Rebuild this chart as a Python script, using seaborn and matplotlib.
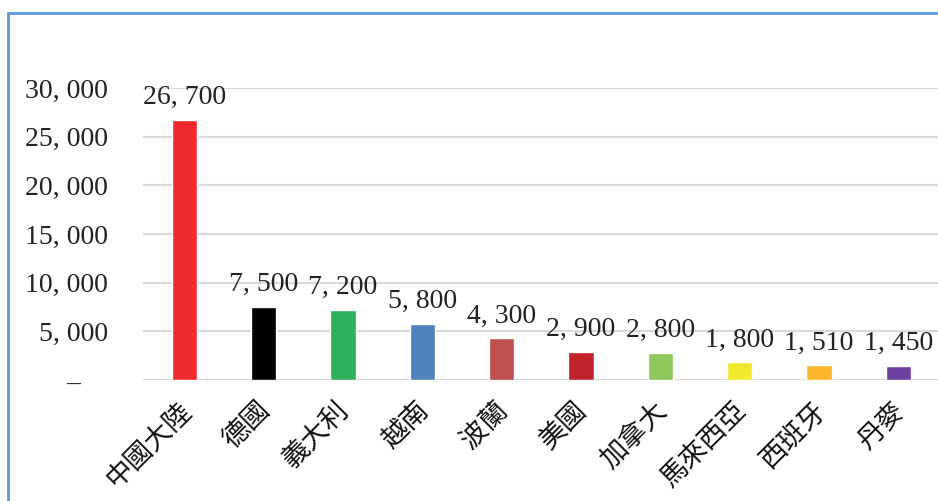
import matplotlib
matplotlib.use("Agg")
import matplotlib.pyplot as plt
import matplotlib.transforms as mtransforms
from matplotlib.lines import Line2D
import seaborn as sns
import pandas as pd

categories = ["中國大陸", "德國", "義大利", "越南", "波蘭", "美國", "加拿大", "馬來西亞", "西班牙", "丹麥"]
values = [26700, 7500, 7200, 5800, 4300, 2900, 2800, 1800, 1510, 1450]
colors = ["#EE2A2F", "#000000", "#2DB15B", "#4F81BD", "#C0504D",
          "#C0232B", "#8DC85C", "#F2E830", "#FDB62E", "#6C3FA0"]
yticks = [0, 5000, 10000, 15000, 20000, 25000, 30000]

def fmt(v):
    return f"{int(round(v)):,}".replace(",", ", ")

sns.set_theme(style="white")
plt.rcParams["font.family"] = ["Liberation Serif", "Noto Sans CJK TC"]

fig = plt.figure(figsize=(9.38, 5.01), dpi=100)
ax = fig.add_axes([143 / 938, 1 - 380 / 501, 795 / 938, 292 / 501])

df = pd.DataFrame({"cat": categories, "val": values})
sns.barplot(data=df, x="cat", y="val", hue="cat", palette=colors,
            width=0.32, legend=False, ax=ax, saturation=1)

ax.set_ylim(0, 30000)
ax.set_xlim(-0.52, 9.5)
ax.set_yticks(yticks)
ax.set_yticklabels(["–    "] + [fmt(v) for v in yticks[1:]], fontsize=20,
                   family=["Liberation Serif"], color="#222222")
ax.tick_params(axis="y", length=0, pad=25)
ax.tick_params(axis="x", length=0, pad=0)
ax.yaxis.grid(True, color="#d9d9d9", linewidth=1.5)
ax.set_axisbelow(True)
for s in ax.spines.values():
    s.set_visible(False)
ax.set_xlabel("")
ax.set_ylabel("")

ax.set_xticks(range(len(categories)))
ax.set_xticklabels(categories, rotation=45, ha="right", va="center",
                   rotation_mode="anchor", fontsize=19.5,
                   family=["Noto Sans CJK TC"], color="#111111")
offset = mtransforms.ScaledTranslation(2 / 72, -19 / 72, fig.dpi_scale_trans)
for lbl in ax.get_xticklabels():
    lbl.set_transform(lbl.get_transform() + offset)

for cont in ax.containers:
    ax.bar_label(cont, labels=[fmt(v) for v in cont.datavalues], padding=7,
                 fontsize=20, family=["Liberation Serif"], color="#222222")

# outer frame
fig.add_artist(Line2D([8 / 938, 8 / 938], [0, 1 - 13 / 501], color="#5B9BD5",
                      linewidth=2, transform=fig.transFigure))
fig.add_artist(Line2D([8 / 938, 1], [1 - 13 / 501, 1 - 13 / 501], color="#5B9BD5",
                      linewidth=2, transform=fig.transFigure))

fig.savefig("out.png", dpi=100)
